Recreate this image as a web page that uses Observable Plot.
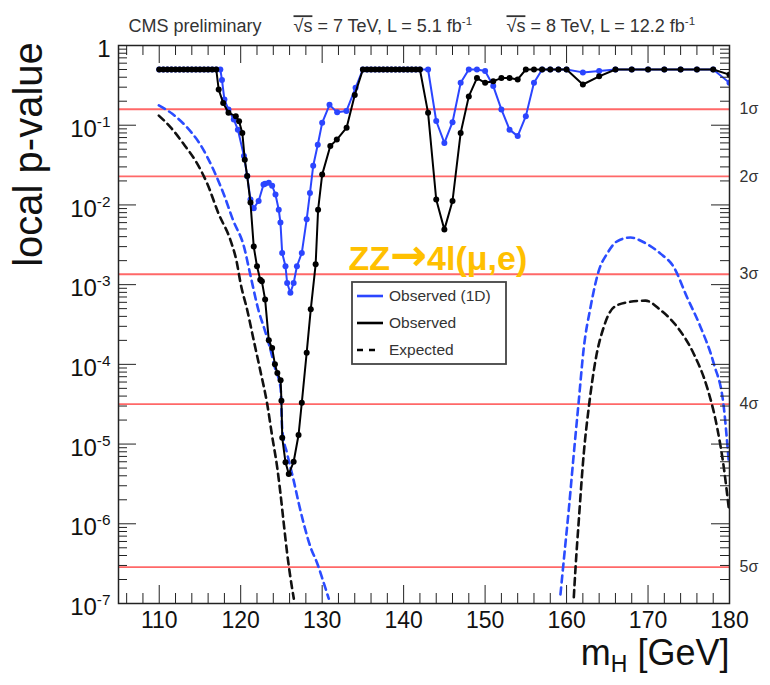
<!DOCTYPE html>
<html><head><meta charset="utf-8">
<script src="https://cdn.jsdelivr.net/npm/d3@7"></script>
<script src="https://cdn.jsdelivr.net/npm/@observablehq/plot@0.6"></script>
<style>
html,body{margin:0;padding:0;background:#fff;}
#chart{width:770px;height:685px;overflow:hidden;}
</style></head><body><div id="chart"></div>
<script>
// ---------------- data ----------------
const obsM = [110,110.5,111,111.5,112,112.5,113,113.5,114,114.5,115,115.5,116,116.5,117,
  117.3,117.85,118.5,119.4,119.8,120.2,120.5,120.8,121.2,121.6,122.0,122.4,122.6,123.0,123.45,123.86,
  124.2,124.5,124.9,125.0,125.1,125.5,125.9,126.5,127.1,127.5,128.1,128.6,129.2,129.5,130.0,131.0,131.8,133.0,134.0,
  135,135.5,136,136.5,137,137.5,138,138.5,139,139.5,140,140.5,141,141.5,142,
  143,144,145,146,147,148,149,150,151,152,153,154,155,156,157,158,159,160,162,164,166,168,170,172,174,176,178,180];
const obsP = [0.5,0.5,0.5,0.5,0.5,0.5,0.5,0.5,0.5,0.5,0.5,0.5,0.5,0.5,0.5,
  0.28,0.19,0.143,0.13,0.112,0.080,0.037,0.023,0.0107,0.0030,0.0017,0.00115,0.0011,0.00065,0.0002,0.00016,
  0.0001,0.000078,0.000063,0.000035,0.000012,0.0000059,0.0000042,0.000006,0.000013,0.000033,0.00014,0.00049,0.0018,0.0087,0.024,0.055,0.066,0.093,0.24,
  0.5,0.5,0.5,0.5,0.5,0.5,0.5,0.5,0.5,0.5,0.5,0.5,0.5,0.5,0.5,
  0.143,0.0117,0.0049,0.0112,0.080,0.23,0.39,0.34,0.357,0.39,0.39,0.375,0.5,0.5,0.5,0.5,0.5,0.5,0.324,0.41,0.5,0.5,0.5,0.5,0.5,0.5,0.5,0.43];

const obs1DM = [110,110.5,111,111.5,112,112.5,113,113.5,114,114.5,115,115.5,116,116.5,117,
  117.5,117.7,118.0,118.5,119.15,119.65,120.4,120.8,121.2,121.6,122.2,122.8,123.0,123.45,123.86,124.27,124.67,124.88,125.09,
  125.5,125.7,126.1,126.5,126.9,127.5,128.1,128.5,128.9,129.46,130.0,130.9,131.84,132.98,134.1,
  135,135.5,136,136.5,137,137.5,138,138.5,139,139.5,140,140.5,141,141.5,142,
  143,144,145,146,147,148,149,150,151,152,153,154,155,156,157,158,159,160,162,164,166,168,170,172,174,176,178,180];
const obs1DP = [0.5,0.5,0.5,0.5,0.5,0.5,0.5,0.5,0.5,0.5,0.5,0.5,0.5,0.5,0.5,
  0.5,0.37,0.21,0.157,0.118,0.088,0.041,0.023,0.0117,0.0091,0.0112,0.018,0.0185,0.019,0.0174,0.0135,0.0087,0.006,0.0025,
  0.0017,0.00105,0.00079,0.00105,0.0017,0.0025,0.0066,0.0141,0.031,0.057,0.107,0.18,0.145,0.151,0.295,
  0.5,0.5,0.5,0.5,0.5,0.5,0.5,0.5,0.5,0.5,0.5,0.5,0.5,0.5,0.5,
  0.5,0.113,0.060,0.109,0.34,0.5,0.5,0.48,0.31,0.158,0.088,0.073,0.13,0.34,0.5,0.5,0.5,0.5,0.46,0.48,0.5,0.5,0.5,0.5,0.5,0.5,0.5,0.34];

const expLowM  = [109.95,111.4,113.0,114.66,115.9,117.3,118.75,119.5,120.0,120.8,121.6,122.4,123.25,123.87,124.48,124.88,125.29,125.71,126.11,126.52];
const expLowP  = [0.132,0.094,0.058,0.033,0.0184,0.0077,0.0036,0.00195,0.00102,0.00048,0.0002,0.000084,0.000032,0.0000124,0.0000051,0.0000024,0.000001,4.2e-7,2.1e-7,1.15e-7];
const expHighM = [160.89,161.1,161.5,162.11,162.73,163.55,164.57,165.8,167.44,169.69,171.53,173.58,175.62,177.26,178.49,179.3,179.9];
const expHighP = [1.2e-7,2.8e-7,1.1e-6,7.6e-6,2.9e-5,1.12e-4,2.95e-4,5.2e-4,6.0e-4,6.3e-4,4.8e-4,2.95e-4,1.35e-4,5.1e-5,1.6e-5,5.1e-6,1.6e-6];

const exp1DLowM  = [109.95,111.6,113.4,115.0,116.7,117.9,119.1,120.4,121.2,122.2,123.0,123.6,124.2,124.9,125.1,125.7,126.5,127.13,127.74,128.57,129.39,130.2,130.81];
const exp1DLowP  = [0.177,0.139,0.094,0.058,0.027,0.0138,0.0063,0.0030,0.0013,4.7e-4,2.6e-4,1.6e-4,9.1e-5,5.0e-5,1.5e-5,7.6e-6,3.5e-6,1.8e-6,1.0e-6,5.1e-7,3.2e-7,1.8e-7,1.15e-7];
const exp1DHighM = [159.25,159.66,160.27,160.89,161.5,162.11,162.94,163.96,164.98,166.2,167.85,169.48,171.53,173.16,174.8,176.44,178.07,179.3,179.9];
const exp1DHighP = [1.3e-7,3.5e-7,1.5e-6,7.6e-6,3.5e-5,1.6e-4,5.2e-4,1.5e-3,2.45e-3,3.5e-3,3.9e-3,3.4e-3,2.45e-3,1.66e-3,6.9e-4,2.95e-4,1.02e-4,2.9e-5,6.2e-6];

const sigmaP      = [0.158655, 0.02275, 0.0013499, 3.1671e-5, 2.8665e-7];
const sigmaLabels = ["1σ", "2σ", "3σ", "4σ", "5σ"];

const xMajor = [110,120,130,140,150,160,170,180];
const xTickLabels = ["110","120","130","140","150","160","170","180"];
const xMinor = [106,108,112,114,116,118,122,124,126,128,132,134,136,138,142,144,146,148,152,154,156,158,162,164,166,168,172,174,176,178];
const yMajor = [1e-7,1e-6,1e-5,1e-4,1e-3,1e-2,1e-1,1];
const yTickLabels = ["10^{-7}","10^{-6}","10^{-5}","10^{-4}","10^{-3}","10^{-2}","10^{-1}","1"];
const yMinorMult = [2,3,4,5,6,7,8,9];

const titleParts = ["CMS preliminary", "~{√s} = 7 TeV, L = 5.1 fb^{-1}", "~{√s} = 8 TeV, L = 12.2 fb^{-1}"];
const yTitle = "local p-value";
const xTitle = "m_{H} [GeV]";
const channelLabel = "ZZ!{→}4l(μ,e)";
const legendLabels = ["Observed (1D)", "Observed", "Expected"];

// ---------------- build ----------------
const rows = (ms, ps) => ms.map((m, i) => ({m, p: ps[i]}));
const obs = rows(obsM, obsP), obs1D = rows(obs1DM, obs1DP);
const expLow = rows(expLowM, expLowP), expHigh = rows(expHighM, expHighP);
const exp1DLow = rows(exp1DLowM, exp1DLowP), exp1DHigh = rows(exp1DHighM, exp1DHighP);
const yMinor = [];
for (let k = 0; k < yMajor.length - 1; k++) for (const f of yMinorMult) yMinor.push(yMajor[k] * f);

const W = 770, H = 685, ML = 118, MR = 41, MT = 45, MB = 82;
const PW = W - ML - MR, PH = H - MT - MB;
const BLUE = "#2b45ff", BLUED = "#2b4cff", RED = "#ff6868", FONT = "Liberation Sans, Arial, Helvetica, sans-serif";
const dash = "7,5";

const plot = Plot.plot({
  width: W, height: H,
  marginLeft: ML, marginRight: MR, marginTop: MT, marginBottom: MB,
  style: {fontFamily: FONT, background: "#fff", color: "#111", overflow: "visible"},
  x: {domain: [105, 180]},
  y: {type: "log", domain: [1e-7, 1]},
  marks: [
    Plot.ruleY(sigmaP, {y: d => d, stroke: RED, strokeWidth: 1.8}),
    Plot.line(exp1DLow, {x: "m", y: "p", stroke: BLUED, strokeWidth: 2.6, strokeDasharray: dash, curve: "monotone-x", clip: true}),
    Plot.line(exp1DHigh, {x: "m", y: "p", stroke: BLUED, strokeWidth: 2.6, strokeDasharray: dash, curve: "monotone-x", clip: true}),
    Plot.line(expLow, {x: "m", y: "p", stroke: "#111", strokeWidth: 2.6, strokeDasharray: dash, curve: "monotone-x", clip: true}),
    Plot.line(expHigh, {x: "m", y: "p", stroke: "#111", strokeWidth: 2.6, strokeDasharray: dash, curve: "monotone-x", clip: true}),
    Plot.line(obs1D, {x: "m", y: "p", stroke: BLUE, strokeWidth: 2, clip: true}),
    Plot.dot(obs1D, {x: "m", y: "p", r: 3, fill: BLUE, clip: true}),
    Plot.line(obs, {x: "m", y: "p", stroke: "#000", strokeWidth: 2, clip: true}),
    Plot.dot(obs, {x: "m", y: "p", r: 3, fill: "#000", clip: true}),
    // inward ticks on all four sides
    Plot.ruleX(xMajor, {x: d => d, insetTop: PH - 18, stroke: "#222"}),
    Plot.ruleX(xMajor, {x: d => d, insetBottom: PH - 18, stroke: "#222"}),
    Plot.ruleX(xMinor, {x: d => d, insetTop: PH - 10, stroke: "#222"}),
    Plot.ruleX(xMinor, {x: d => d, insetBottom: PH - 10, stroke: "#222"}),
    Plot.ruleY(yMajor, {y: d => d, insetRight: PW - 18, stroke: "#222"}),
    Plot.ruleY(yMajor, {y: d => d, insetLeft: PW - 18, stroke: "#222"}),
    Plot.ruleY(yMinor, {y: d => d, insetRight: PW - 9, stroke: "#222"}),
    Plot.ruleY(yMinor, {y: d => d, insetLeft: PW - 9, stroke: "#222"}),
    Plot.frame({stroke: "#222", strokeWidth: 1.5}),
    Plot.axisX({ticks: xMajor, tickSize: 0, tickPadding: 8, fontSize: 23, label: null,
      tickFormat: d => xTickLabels[xMajor.indexOf(d)]}),
    Plot.axisY({ticks: yMajor, tickSize: 0, tickPadding: 8, fontSize: 24, label: null, dy: 4,
      tickFormat: d => yTickLabels[yMajor.indexOf(d)]}),
    Plot.text(sigmaP, {y: d => d, text: (d, i) => sigmaLabels[i], frameAnchor: "right", dx: 10, textAnchor: "start", fontSize: 16, fill: "#333"}),
    Plot.text([titleParts[0]], {text: d => d, frameAnchor: "top-left", dx: 10, dy: -26, textAnchor: "start", fontSize: 18, fill: "#333"}),
    Plot.text([titleParts[1]], {text: d => d, frameAnchor: "top-left", dx: 175, dy: -26, textAnchor: "start", fontSize: 18, fill: "#333"}),
    Plot.text([titleParts[2]], {text: d => d, frameAnchor: "top-left", dx: 388, dy: -26, textAnchor: "start", fontSize: 18, fill: "#333"}),
    Plot.text([yTitle], {text: d => d, frameAnchor: "left", dx: -89, dy: -170, rotate: -90, textAnchor: "middle", fontSize: 40, fill: "#111"}),
    Plot.text([xTitle], {text: d => d, frameAnchor: "bottom-right", dx: 0, dy: 61, textAnchor: "end", fontSize: 36, fill: "#111"}),
    Plot.text([channelLabel], {text: d => d, frameAnchor: "top-left", dx: 230, dy: 200, textAnchor: "start", fontSize: 34, fontWeight: "bold", fill: "#ffc000"})
  ]
});

// rich text: ^{sup}, _{sub}, ~{overline}, !{wide symbol}
const NS = "http://www.w3.org/2000/svg";
function fontSizeOf(el) {
  let n = el;
  while (n && n.getAttribute) { const f = n.getAttribute("font-size"); if (f) return parseFloat(f); n = n.parentNode; }
  return 12;
}
function rich(el) {
  const s = el.textContent;
  if (!/[\^_~!]\{/.test(s)) return;
  const fs = fontSizeOf(el);
  while (el.firstChild) el.removeChild(el.firstChild);
  let shift = 0;
  const add = (t, kind) => {
    if (!t) return;
    const ts = document.createElementNS(NS, "tspan");
    ts.textContent = t;
    const target = kind === "^" ? -0.42 * fs : kind === "_" ? 0.2 * fs : 0;
    if (target !== shift) ts.setAttribute("dy", target - shift);
    shift = target;
    if (kind === "^" || kind === "_") ts.setAttribute("font-size", 0.64 * fs);
    if (kind === "~") ts.setAttribute("style", "text-decoration: overline");
    if (kind === "!") { ts.setAttribute("font-family", "DejaVu Sans"); ts.setAttribute("font-size", 1.3 * fs); }
    el.appendChild(ts);
  };
  const re = /([\^_~!])\{([^}]*)\}/g;
  let last = 0, m;
  while ((m = re.exec(s))) { add(s.slice(last, m.index), ""); add(m[2], m[1]); last = re.lastIndex; }
  add(s.slice(last), "");
}
d3.select(plot).selectAll("text").each(function () { rich(this); });

// legend box
const svg = d3.select(plot);
const lg = svg.append("g").attr("font-family", FONT).attr("text-anchor", "start");
const LX = 352, LY = 282, LW = 154, LH = 82;
lg.append("rect").attr("x", LX).attr("y", LY).attr("width", LW).attr("height", LH)
  .attr("fill", "#fff").attr("stroke", "#444").attr("stroke-width", 1.8);
const styles = [{c: BLUE, d: null}, {c: "#000", d: null}, {c: "#000", d: "6,6"}];
legendLabels.forEach((lab, i) => {
  const y = LY + 14 + i * 27;
  lg.append("line").attr("x1", LX + 5).attr("x2", LX + (i === 2 ? 25 : 31)).attr("y1", y).attr("y2", y)
    .attr("stroke", styles[i].c).attr("stroke-width", 2.6).attr("stroke-dasharray", styles[i].d);
  lg.append("text").attr("x", LX + 37).attr("y", y).attr("dy", "0.35em").attr("font-size", 15.5)
    .attr("text-anchor", "start").attr("fill", "#333").text(lab);
});

document.getElementById("chart").appendChild(plot);
</script></body></html>
